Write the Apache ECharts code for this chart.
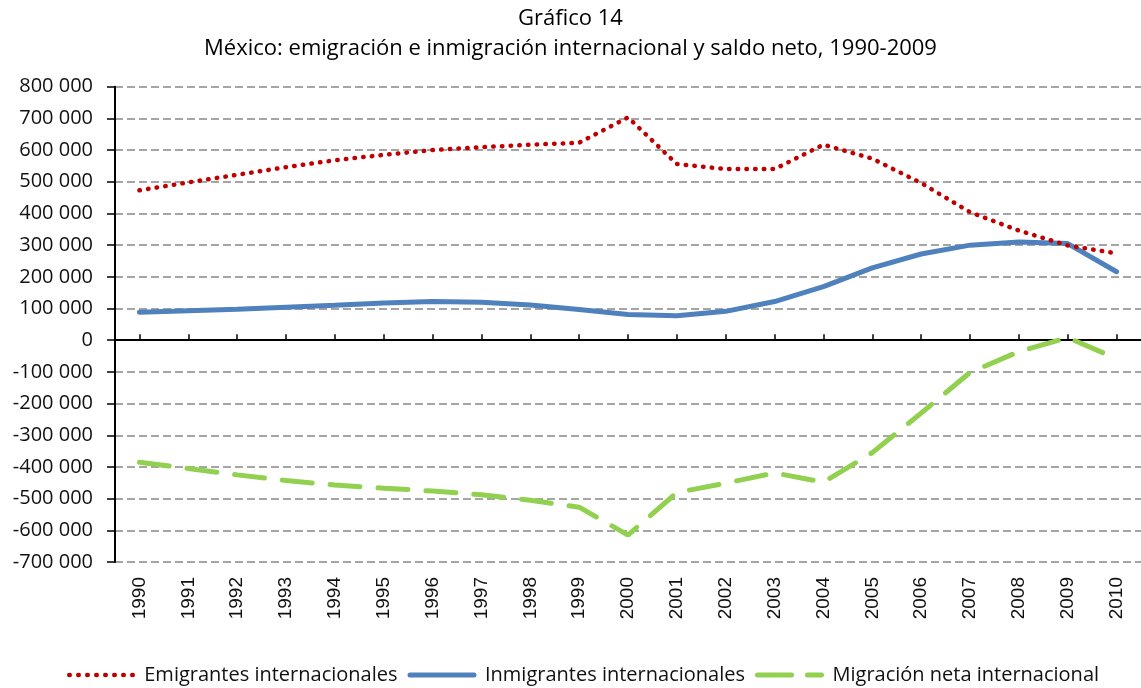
<!DOCTYPE html>
<html lang="es">
<head>
<meta charset="UTF-8">
<title>Gráfico 14</title>
<script src="https://cdn.jsdelivr.net/npm/echarts@6/dist/echarts.min.js"></script>
</head>
<body style="margin:0">
<div id="main" style="width:1141px;height:688px"></div>
<script>
var years = ['1990', '1991', '1992', '1993', '1994', '1995', '1996', '1997', '1998', '1999', '2000',
    '2001', '2002', '2003', '2004', '2005', '2006', '2007', '2008', '2009', '2010'];

// emigrantes internacionales
var emigrantes = [473000, 498000, 522000, 546000, 568000, 585000, 600000, 609000, 617000, 623000, 703000,
    556000, 540000, 540000, 617000, 573000, 496000, 404000, 346000, 299000, 274000];

// inmigrantes internacionales
var inmigrantes = [88000, 93000, 98000, 104000, 110000, 117000, 122000, 120000, 111000, 97000, 81000,
    77000, 91000, 122000, 169000, 228000, 272000, 300000, 310000, 305000, 216000];

// migracion neta
var neta = [-385000, -405000, -425000, -443000, -457000, -467000, -476000, -488000, -505000, -527000, -615000,
    -481000, -451000, -419000, -448000, -355000, -230000, -102000, -36000, 8000, -58000];

var nombres = ['Emigrantes internacionales', 'Inmigrantes internacionales', 'Migración neta internacional'];

var chart = echarts.init(document.getElementById('main'));

function miles(v) {
    return String(v).replace(/\B(?=(\d{3})+(?!\d))/g, ' ');
}

var option = {
    animation: false,
    textStyle: { fontFamily: 'Open Sans' },
    title: [
        {
            text: 'Gráfico 14',
            left: 'center',
            top: 8,
            padding: [0, 0, 0, 13],
            textStyle: { fontSize: 22, fontWeight: 'normal', color: '#000' }
        },
        {
            text: 'México: emigración e inmigración internacional y saldo neto, 1990-2009',
            left: 'center',
            top: 38,
            padding: [0, 0, 0, 13],
            textStyle: { fontSize: 22, fontWeight: 'normal', color: '#000' }
        }
    ],
    legend: {
        left: 62,
        top: 660,
        itemWidth: 64,
        itemHeight: 14,
        itemGap: 10,
        itemStyle: { opacity: 0 },
        data: [
            { name: nombres[0], lineStyle: { width: 4.5, type: [0.5, 8.5], cap: 'round' } },
            { name: nombres[1], lineStyle: { width: 5 } },
            { name: nombres[2], lineStyle: { width: 5, type: [34, 16], cap: 'round' } }
        ],
        textStyle: { fontSize: 20, color: '#111', padding: [0, 0, 0, 6] }
    },
    grid: {
        left: 115,
        top: 86.7,
        height: 475.3,
        width: 1029,
        containLabel: false
    },
    xAxis: [
        {
            type: 'category',
            data: years,
            boundaryGap: true,
            axisLine: { onZero: true, lineStyle: { color: '#000', width: 2 } },
            axisTick: { show: true, inside: true, length: 6, alignWithLabel: true, lineStyle: { color: '#000', width: 1.5 } },
            axisLabel: { show: false },
            splitLine: { show: false }
        },
        {
            type: 'category',
            data: years,
            position: 'bottom',
            boundaryGap: true,
            axisLine: { show: false, onZero: false },
            axisTick: { show: false },
            axisLabel: { rotate: 90, margin: 15, fontSize: 19, color: '#111', fontFamily: 'Liberation Sans' },
            splitLine: { show: false }
        }
    ],
    yAxis: {
        type: 'value',
        min: -700000,
        max: 800000,
        interval: 100000,
        axisLine: { show: true, lineStyle: { color: '#000', width: 2 } },
        axisTick: { show: true, length: 8, lineStyle: { color: '#000', width: 1.5 } },
        axisLabel: { fontSize: 20, color: '#111', margin: 22, formatter: miles },
        splitLine: { show: true, lineStyle: { color: '#888', width: 1.5, type: [8, 4] } }
    },
    series: [
        {
            name: nombres[0],
            type: 'line',
            data: emigrantes,
            symbol: 'none',
            itemStyle: { color: '#C00000' },
            lineStyle: { color: '#C00000', width: 4.5, type: [0.5, 8.2], cap: 'round' },
            z: 3
        },
        {
            name: nombres[1],
            type: 'line',
            data: inmigrantes,
            symbol: 'none',
            itemStyle: { color: '#4F81BD' },
            lineStyle: { color: '#4F81BD', width: 5, cap: 'round' },
            z: 2
        },
        {
            name: nombres[2],
            type: 'line',
            data: neta,
            symbol: 'none',
            itemStyle: { color: '#92D050' },
            lineStyle: { color: '#92D050', width: 5, type: [30, 18], cap: 'round' },
            z: 2
        }
    ]
};

chart.setOption(option);
</script>
</body>
</html>
